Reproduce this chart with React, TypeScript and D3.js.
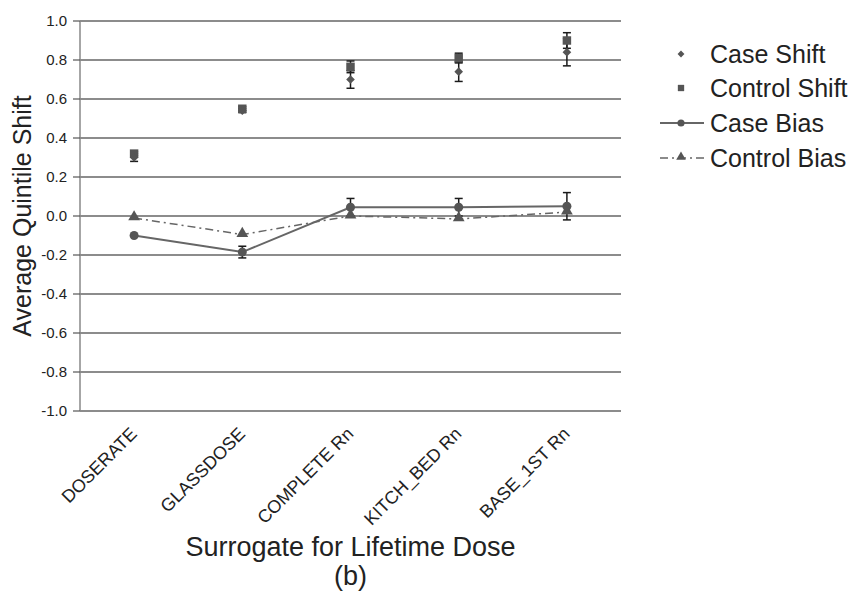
import React from "react";
import * as d3 from "d3";

const categories = ["DOSERATE", "GLASSDOSE", "COMPLETE Rn", "KITCH_BED Rn", "BASE_1ST Rn"];
const caseShift = [0.30, 0.54, 0.70, 0.74, 0.84];
const caseShiftErr = [0.02, 0.01, 0.045, 0.05, 0.07];
const controlShift = [0.32, 0.55, 0.765, 0.81, 0.90];
const controlShiftErr = [0.01, 0.01, 0.03, 0.025, 0.04];
const caseBias = [-0.10, -0.185, 0.045, 0.045, 0.05];
const caseBiasErr = [0.005, 0.03, 0.045, 0.045, 0.07];
const controlBias = [-0.01, -0.095, 0.0, -0.015, 0.02];
const yTicks = [1.0, 0.8, 0.6, 0.4, 0.2, 0.0, -0.2, -0.4, -0.6, -0.8, -1.0];
const legendLabels = ["Case Shift", "Control Shift", "Case Bias", "Control Bias"];

const W = 849, H = 594;
const M = { left: 80, right: 621, top: 21, bottom: 411 };
const FONT = "'Liberation Sans', Arial, sans-serif";
const MARK = "#555";
const INK = "#222";

export default function App() {
  const x = d3.scaleBand<string>().domain(categories).range([M.left, M.right]).padding(0);
  const cx = (i: number) => (x(categories[i]) as number) + x.bandwidth() / 2;
  const y = d3.scaleLinear().domain([-1, 1]).range([M.bottom, M.top]);
  const fmt = (t: number) => d3.format(".1f")(t).replace("\u2212", "-");

  const line = d3.line<number>().x((_, i) => cx(i)).y((d) => y(d));
  const diamond = d3.symbol().type(d3.symbolDiamond2);
  const square = d3.symbol().type(d3.symbolSquare);
  const circle = d3.symbol().type(d3.symbolCircle);
  const triangle = d3.symbol().type(d3.symbolTriangle);

  const errBar = (vals: number[], errs: number[], key: string) =>
    vals.map((v, i) => {
      const e = errs[i];
      if (e < 0.008) return null;
      const X = cx(i);
      const y1 = y(v + e), y2 = y(v - e);
      return (
        <g key={key + i} stroke="#1a1a1a" strokeWidth={1.5}>
          <line x1={X} x2={X} y1={y1} y2={y2} />
          <line x1={X - 4} x2={X + 4} y1={y1} y2={y1} />
          <line x1={X - 4} x2={X + 4} y1={y2} y2={y2} />
        </g>
      );
    });

  const legX = 681;
  const legY = [54, 88, 123, 158];

  return (
    <svg width={W} height={H} style={{ position: "absolute", left: 0, top: 0, background: "#fff" }} fontFamily={FONT}>
      <rect width={W} height={H} fill="#fff" />
      {/* gridlines */}
      {yTicks.map((t) => (
        <line key={"g" + t} x1={M.left} x2={M.right} y1={y(t)} y2={y(t)} stroke="#1a1a1a" strokeWidth={1.2} />
      ))}
      {/* y axis */}
      <line x1={M.left} x2={M.left} y1={M.top} y2={M.bottom} stroke="#888" strokeWidth={1.5} />
      {yTicks.map((t) => (
        <g key={"t" + t}>
          <line x1={M.left - 7} x2={M.left} y1={y(t)} y2={y(t)} stroke="#555" strokeWidth={1.2} />
          <text x={M.left - 13} y={y(t)} dy="0.35em" textAnchor="end" fontSize={15} fill={INK}>
            {fmt(t)}
          </text>
        </g>
      ))}
      {/* x tick labels */}
      {categories.map((c, i) => (
        <text
          key={"x" + c}
          transform={`translate(${cx(i) + 4},${M.bottom + 24}) rotate(-45)`}
          textAnchor="end"
          fontSize={18}
          fill={INK}
        >
          {c}
        </text>
      ))}
      {/* titles */}
      <text transform={`translate(31,${(M.top + M.bottom) / 2}) rotate(-90)`} textAnchor="middle" fontSize={25} fill={INK}>
        Average Quintile Shift
      </text>
      <text x={(M.left + M.right) / 2} y={556} textAnchor="middle" fontSize={27} fill={INK}>
        Surrogate for Lifetime Dose
      </text>
      <text x={(M.left + M.right) / 2} y={585} textAnchor="middle" fontSize={27} fill={INK}>
        (b)
      </text>
      {/* bias lines */}
      <path d={line(caseBias) as string} fill="none" stroke="#666" strokeWidth={2} />
      <path d={line(controlBias) as string} fill="none" stroke="#666" strokeWidth={1.5} strokeDasharray="8,4,2,4" />
      {/* error bars */}
      {errBar(caseShift, caseShiftErr, "es")}
      {errBar(controlShift, controlShiftErr, "ec")}
      {errBar(caseBias, caseBiasErr, "eb")}
      {/* markers */}
      {controlBias.map((v, i) => (
        <path key={"cb" + i} d={triangle.size(60)() as string} transform={`translate(${cx(i)},${y(v) - 1})`} fill={MARK} />
      ))}
      {caseBias.map((v, i) => (
        <path key={"ab" + i} d={circle.size(64)() as string} transform={`translate(${cx(i)},${y(v)})`} fill={MARK} />
      ))}
      {controlShift.map((v, i) => (
        <path key={"cs" + i} d={square.size(72)() as string} transform={`translate(${cx(i)},${y(v)})`} fill={MARK} />
      ))}
      {caseShift.map((v, i) => (
        <path key={"as" + i} d={diamond.size(48)() as string} transform={`translate(${cx(i)},${y(v)})`} fill={MARK} />
      ))}
      {/* legend */}
      <g>
        <path d={diamond.size(30)() as string} transform={`translate(${legX},${legY[0]})`} fill={MARK} />
        <path d={square.size(40)() as string} transform={`translate(${legX},${legY[1]})`} fill={MARK} />
        <line x1={660} x2={704} y1={legY[2]} y2={legY[2]} stroke="#666" strokeWidth={2} />
        <path d={circle.size(40)() as string} transform={`translate(${legX},${legY[2]})`} fill={MARK} />
        <line x1={660} x2={704} y1={legY[3]} y2={legY[3]} stroke="#666" strokeWidth={1.5} strokeDasharray="8,4,2,4" />
        <path d={triangle.size(40)() as string} transform={`translate(${legX},${legY[3] - 1})`} fill={MARK} />
        {legendLabels.map((l, i) => (
          <text key={l} x={710} y={legY[i]} dy="0.35em" fontSize={25} fill={INK}>
            {l}
          </text>
        ))}
      </g>
    </svg>
  );
}
